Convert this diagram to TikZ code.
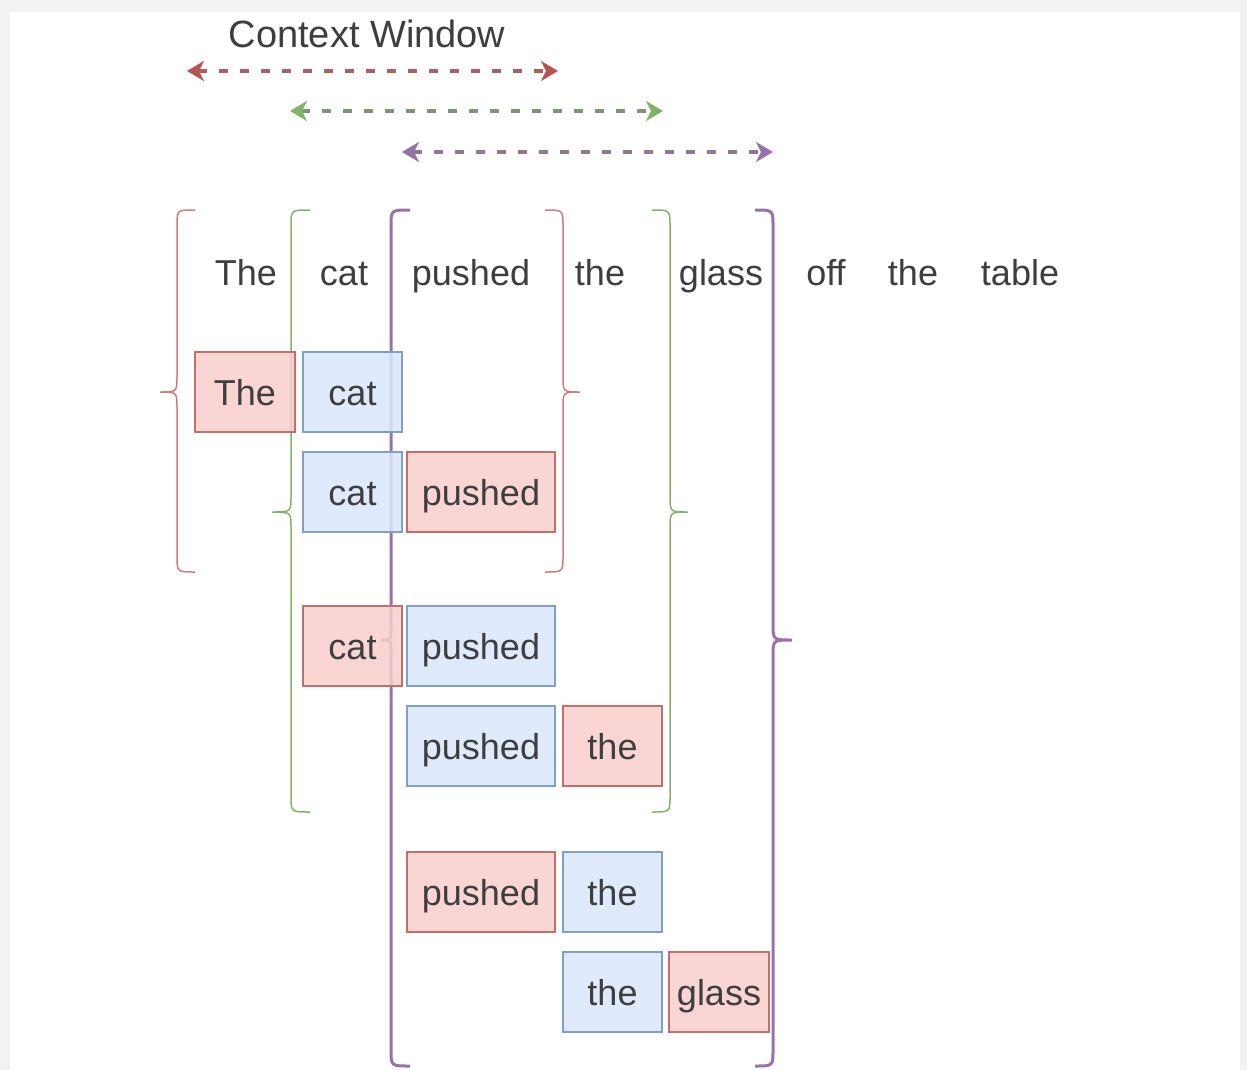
\documentclass[tikz,border=0pt]{standalone}
\usepackage{fontspec}
\setmainfont{Liberation Sans}
\usetikzlibrary{arrows.meta}
\definecolor{redS}{HTML}{B85450}
\definecolor{redF}{HTML}{F8CECC}
\definecolor{blueS}{HTML}{6C8EBF}
\definecolor{blueF}{HTML}{DAE8FC}
\definecolor{greenS}{HTML}{82B366}
\definecolor{purpS}{HTML}{9673A6}
\definecolor{txt}{HTML}{3E3E3E}
\definecolor{bgray}{HTML}{F2F2F2}
\tikzset{
  word/.style={text=txt, font=\fontsize{36}{40}\selectfont, inner sep=0pt, text height=26pt, text depth=0pt},
  tbox/.style={word, draw, line width=2pt, minimum height=80pt, fill opacity=0.85, text opacity=1},
  rbox/.style={tbox, draw=redS!85, fill=redF},
  bbox/.style={tbox, draw=blueS!85, fill=blueF},
  cwarrow/.style={{Stealth[length=17pt,width=20pt,inset=5pt,color=#1]}-{Stealth[length=17pt,width=20pt,inset=5pt,color=#1]}, dash pattern=on 9pt off 12pt, line width=3.5pt},
  thinbrace/.style={line width=1.5pt},
  thickbrace/.style={line width=3pt, purpS},
}
\begin{document}
\begin{tikzpicture}[x=1pt,y=-1pt]
\useasboundingbox (0,0) rectangle (1247,1070);
\fill[bgray] (0,0) rectangle (1247,1070);
\fill[white] (10,12) rectangle (1240,1070);

% title and window arrows
\node[word, font=\fontsize{38}{42}\selectfont, text height=27pt] (cw) at (367,34) {Context Window};
\coordinate (r1) at (187,71);  \coordinate (r2) at (558,71);
\coordinate (g1) at (290,111); \coordinate (g2) at (663,111);
\coordinate (p1) at (402,152); \coordinate (p2) at (773,152);
\draw[cwarrow=redS, redS!70!gray] (r1) -- (r2);
\draw[cwarrow=greenS, greenS!35!gray] (g1) -- (g2);
\draw[cwarrow=purpS, purpS!55!gray] (p1) -- (p2);

% braces
\draw[thinbrace, redS!75] (195,210) .. controls (177,210) .. (177,226) -- (177,376) .. controls (177,392) .. (160,392) .. controls (177,392) .. (177,408) -- (177,556) .. controls (177,572) .. (195,572);
\draw[thinbrace, redS!75] (545,210) .. controls (563,210) .. (563,226) -- (563,376) .. controls (563,392) .. (580,392) .. controls (563,392) .. (563,408) -- (563,556) .. controls (563,572) .. (545,572);
\draw[thinbrace, greenS] (310,210) .. controls (291,210) .. (291,226) -- (291,496) .. controls (291,512) .. (272,512) .. controls (291,512) .. (291,528) -- (291,796) .. controls (291,812) .. (310,812);
\draw[thinbrace, greenS] (652,210) .. controls (670,210) .. (670,226) -- (670,496) .. controls (670,512) .. (688,512) .. controls (670,512) .. (670,528) -- (670,796) .. controls (670,812) .. (652,812);
\draw[thickbrace] (410,210) .. controls (391,210) .. (391,226) -- (391,626) .. controls (391,640) .. (381,640) .. controls (391,640) .. (391,654) -- (391,1050) .. controls (391,1066) .. (410,1066);
\draw[thickbrace] (755,210) .. controls (773,210) .. (773,226) -- (773,624) .. controls (773,640) .. (792,640) .. controls (773,640) .. (773,656) -- (773,1050) .. controls (773,1066) .. (755,1066);

% sentence
\node[word] (w1) at (246,272) {The};
\node[word] (w2) at (344,272) {cat};
\node[word] (w3) at (471,272) {pushed};
\node[word] (w4) at (600,272) {the};
\node[word] (w5) at (721,272) {glass};
\node[word] (w6) at (826,272) {off};
\node[word] (w7) at (913,272) {the};
\node[word] (w8) at (1020,272) {table};

% pairs
\node[rbox, minimum width=100pt] (a1) at (245,392) {The};
\node[bbox, minimum width=99pt]  (a2) at (352.5,392) {cat};
\node[bbox, minimum width=99pt]  (b1) at (352.5,492) {cat};
\node[rbox, minimum width=148pt] (b2) at (481,492) {pushed};
\node[rbox, minimum width=99pt]  (c1) at (352.5,646) {cat};
\node[bbox, minimum width=148pt] (c2) at (481,646) {pushed};
\node[bbox, minimum width=148pt] (d1) at (481,746) {pushed};
\node[rbox, minimum width=99pt]  (d2) at (612.5,746) {the};
\node[rbox, minimum width=148pt] (e1) at (481,892) {pushed};
\node[bbox, minimum width=99pt]  (e2) at (612.5,892) {the};
\node[bbox, minimum width=99pt]  (f1) at (612.5,992) {the};
\node[rbox, minimum width=100pt] (f2) at (719,992) {glass};
\end{tikzpicture}
\end{document}
